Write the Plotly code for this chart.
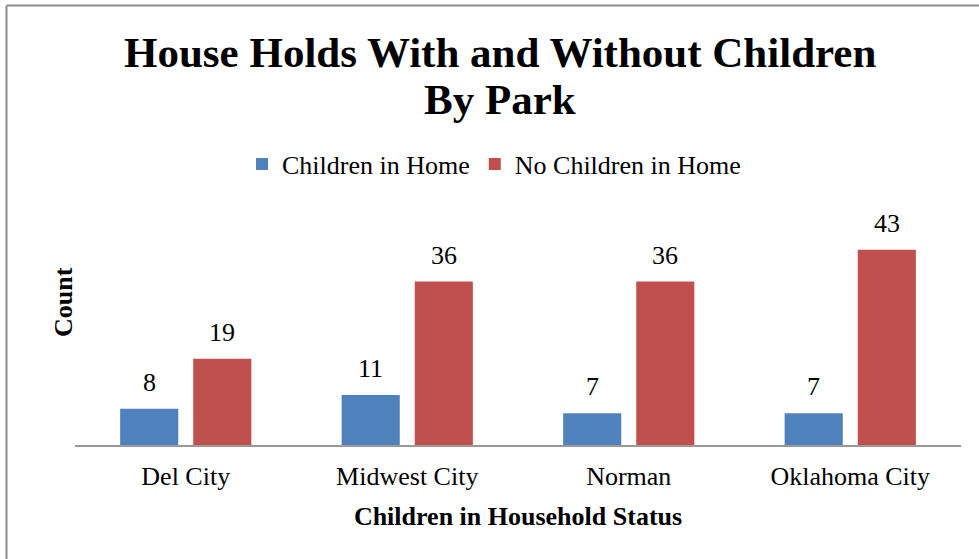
import plotly.graph_objects as go

categories = ["Del City", "Midwest City", "Norman", "Oklahoma City"]
children = [8, 11, 7, 7]
no_children = [19, 36, 36, 43]
series_names = ["Children in Home", "No Children in Home"]
colors = ["#4F81BD", "#C0504D"]
title_lines = ["House Holds With and Without Children", "By Park"]

FONT = "Liberation Serif, Times New Roman, serif"

fig = go.Figure()
for name, vals, col in zip(series_names, [children, no_children], colors):
    fig.add_trace(go.Bar(x=categories, y=vals, name=name, marker=dict(color=col, line=dict(width=0)),
                         hoverinfo="x+y"))

# data labels
offsets = [-36.5, 36.5]
for off, vals in zip(offsets, [children, no_children]):
    for c, v in zip(categories, vals):
        fig.add_annotation(x=c, y=v, text=str(v), showarrow=False, xshift=off, yshift=10,
                           yanchor="bottom", font=dict(family=FONT, size=26, color="#000"))

# title lines
for txt, yp in zip(title_lines, [(445 - 52) / 227, (445 - 100) / 227]):
    fig.add_annotation(xref="paper", yref="paper", x=(500 - 75) / 886, y=yp, text="<b>%s</b>" % txt,
                       showarrow=False, xanchor="center", yanchor="middle",
                       font=dict(family=FONT, size=43, color="#000"))

# y axis title
fig.add_annotation(xref="paper", yref="paper", x=(63 - 75) / 886, y=(445 - 302) / 227, text="<b>Count</b>",
                   showarrow=False, textangle=-90, xanchor="center", yanchor="middle",
                   font=dict(family=FONT, size=26, color="#000"))

fig.update_layout(
    width=979, height=559,
    margin=dict(l=75, r=18, t=218, b=114),
    paper_bgcolor="white", plot_bgcolor="white",
    barmode="group", bargap=0.34, bargroupgap=0.205,
    legend=dict(orientation="h", x=(494 - 75) / 886, xanchor="center", y=1.237, yanchor="middle",
                font=dict(family=FONT, size=26, color="#000"),
                traceorder="normal"),
    showlegend=True,
    font=dict(family=FONT, color="#000"),
    xaxis=dict(showline=True, linecolor="#999999", linewidth=2, ticks="", ticklabelstandoff=7,
               tickfont=dict(family=FONT, size=26, color="#000"),
               title=dict(text="<b>Children in Household Status</b>", standoff=17,
                          font=dict(family=FONT, size=26, color="#000"))),
    yaxis=dict(range=[0, 50], showgrid=False, showticklabels=False, zeroline=False, ticks=""),
)

# chart border (left and top edges)
fig.add_shape(type="line", xref="paper", yref="paper", x0=(6.5-75)/886, x1=1.2, y0=(445-5.5)/227, y1=(445-5.5)/227,
              line=dict(color="#8c8c8c", width=2))
fig.add_shape(type="line", xref="paper", yref="paper", x0=(6.5-75)/886, x1=(6.5-75)/886, y0=(445-5.5)/227, y1=-0.8,
              line=dict(color="#8c8c8c", width=2))

fig.write_html("out.html")
